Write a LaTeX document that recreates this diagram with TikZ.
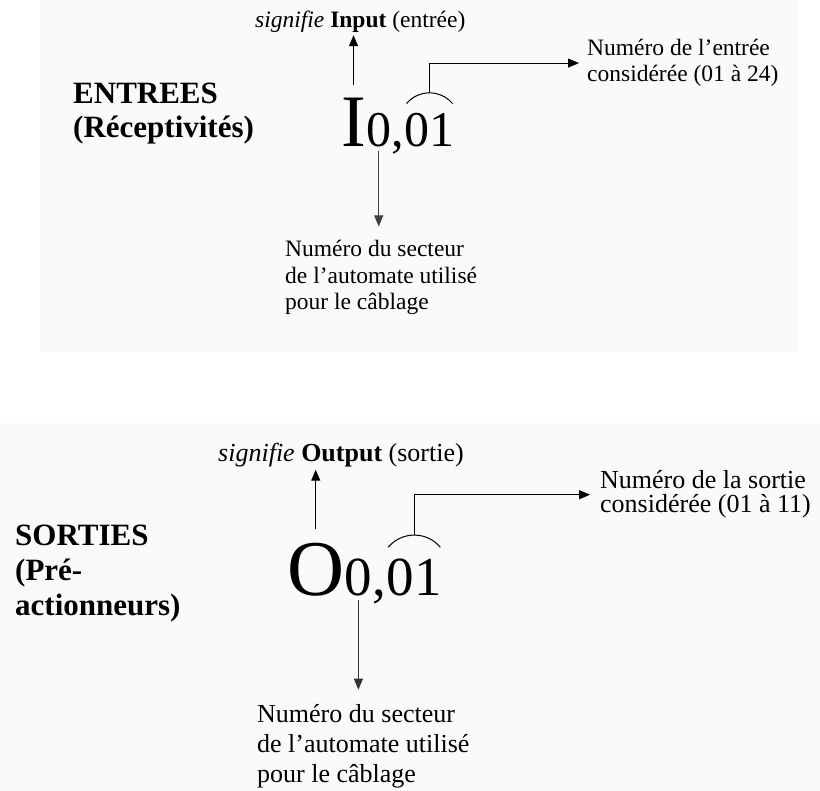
\documentclass[tikz,border=0pt]{standalone}
\usepackage{fontspec}
\setmainfont{Liberation Serif}
\usetikzlibrary{arrows.meta}
\definecolor{panelgray}{RGB}{250, 250, 250}

\begin{document}
\begin{tikzpicture}[
    x=1pt, y=-1pt,
    head/.style={anchor=base west, align=left, inner sep=0pt, font=\bfseries\fontsize{31}{34}\selectfont},
    mean/.style={anchor=base west, inner sep=2pt, font=\fontsize{23.5}{27}\selectfont},
    desc/.style={anchor=base west, align=left, inner xsep=8pt, inner ysep=14pt, font=\fontsize{23.5}{26.5}\selectfont},
    sym/.style={anchor=base west, inner sep=0pt, font=\fontsize{74}{74}\selectfont},
    idx/.style={anchor=base west, inner sep=0pt, font=\fontsize{50}{50}\selectfont},
    arrow/.style={-{Triangle[length=11pt, width=9pt]}, line width=1pt},
    bracecap/.style={line width=1pt}
]
    \useasboundingbox (0,0) rectangle (820,791);
    \fill[panelgray] (40,0) rectangle (799,352);
    \fill[panelgray] (0,423) rectangle (820,791);

    % entrees
    \node[head] (inhead) at (73,138) {ENTREES\\(Réceptivités)};
    \node[mean] (inmean) at (253,28) {\textit{signifie} \textbf{Input} (entrée)};
    \node[sym] (insym) at (341,147) {I};
    \node[idx] (insec) at (insym.base east) {0};
    \node[idx] (incomma) at (insec.base east) {,};
    \node[idx] (innum) at (incomma.base east) {01};
    \node[desc] (innumdesc) at (579,82) {Numéro de l'entrée\\considérée (01 à 24)};
    \node[desc] (insecdesc) at (277,310) {Numéro du secteur\\de l'automate utilisé\\pour le câblage};

    \draw[arrow] ([yshift=13pt]insym.north) -- (insym.north |- inmean.south);
    \draw[bracecap] ([xshift=-23pt, yshift=10pt]innum.north) arc[start angle=140, end angle=40, radius=30pt];
    \draw[arrow] ([yshift=20.7pt]innum.north) |- (innumdesc.west);
    \draw[arrow, line width=0.8pt, black!75] ([yshift=-3pt]insec.south) -- (insec.south |- insecdesc.north);

    % sorties
    \node[head, font=\bfseries\fontsize{31}{35}\selectfont] (outhead) at (15,615) {SORTIES\\(Pré-\\actionneurs)};
    \node[mean, font=\fontsize{26}{29}\selectfont] (outmean) at (216,462) {\textit{signifie} \textbf{Output} (sortie)};
    \node[sym, font=\fontsize{79}{79}\selectfont] (outsym) at (287,595) {O};
    \node[idx, font=\fontsize{55}{55}\selectfont] (outsec) at (outsym.base east) {0};
    \node[idx, font=\fontsize{55}{55}\selectfont] (outcomma) at (outsec.base east) {,};
    \node[idx, font=\fontsize{55}{55}\selectfont] (outnum) at (outcomma.base east) {01};
    \node[desc, inner xsep=10pt, font=\fontsize{26}{24}\selectfont] (outnumdesc) at (590,513) {Numéro de la sortie\\considérée (01 à 11)};
    \node[desc, font=\fontsize{26}{30}\selectfont] (outsecdesc) at (249,782) {Numéro du secteur\\de l'automate utilisé\\pour le câblage};

    \draw[arrow] ([yshift=13pt]outsym.north) -- (outsym.north |- outmean.south);
    \draw[bracecap] ([xshift=-26pt, yshift=11pt]outnum.north) arc[start angle=140, end angle=40, radius=34pt];
    \draw[arrow] ([yshift=23.1pt]outnum.north) |- (outnumdesc.west);
    \draw[arrow, line width=0.8pt, black!80] ([yshift=-4pt]outsec.south) -- (outsec.south |- outsecdesc.north);
\end{tikzpicture}
\end{document}
